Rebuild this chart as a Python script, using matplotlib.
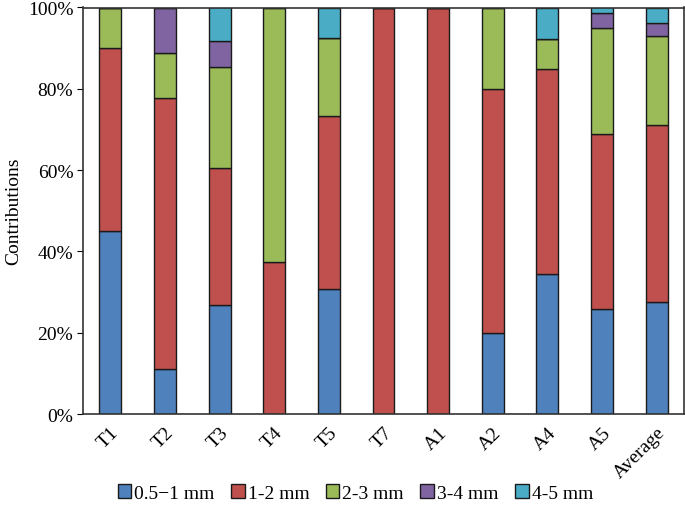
import numpy as np
import matplotlib
matplotlib.use('Agg')
import matplotlib.pyplot as plt
from matplotlib.ticker import PercentFormatter

plt.rcParams['font.family'] = ['Liberation Serif', 'DejaVu Serif']

samples = ['T1', 'T2', 'T3', 'T4', 'T5', 'T7', 'A1', 'A2', 'A4', 'A5', 'Average']
series = ['0.5\u22121 mm', '1-2 mm', '2-3 mm', '3-4 mm', '4-5 mm']

# contributions in percent, per size class
size_05_1 = [45.0, 11.1, 26.9, 0.0, 30.7, 0.0, 0.0, 20.0, 34.4, 25.8, 27.5]
size_1_2 = [45.1, 66.6, 33.6, 37.3, 42.6, 100.0, 100.0, 60.0, 50.4, 43.1, 43.5]
size_2_3 = [9.9, 11.2, 24.9, 62.7, 19.1, 0.0, 0.0, 20.0, 7.5, 26.0, 21.9]
size_3_4 = [0.0, 11.1, 6.4, 0.0, 0.0, 0.0, 0.0, 0.0, 0.0, 3.7, 3.3]
size_4_5 = [0.0, 0.0, 8.2, 0.0, 7.6, 0.0, 0.0, 0.0, 7.7, 1.4, 3.8]

colors = ['#4F81BD', '#C0504D', '#9BBB59', '#8064A2', '#4BACC6']

fig = plt.figure(figsize=(6.85, 5.06), dpi=100)
ax = fig.add_axes([83/685, 1 - 415/506, 601/685, 406.5/506])

x = np.arange(len(samples))
bottom = np.zeros(len(samples))
for vals, lab, c in zip([size_05_1, size_1_2, size_2_3, size_3_4, size_4_5], series, colors):
    vals = np.array(vals)
    ax.bar(x, vals, 0.4, bottom=bottom, color=c, edgecolor='#1a1a1a',
           linewidth=1.0, label=lab)
    bottom += vals

ax.set_xlim(-0.5, len(samples) - 0.5)
ax.set_ylim(0, 100)
ax.set_yticks(np.arange(0, 101, 20))
ax.yaxis.set_major_formatter(PercentFormatter(decimals=0))
ax.set_xticks(x)
ax.set_xticklabels(samples, rotation=45, ha='right', rotation_mode='anchor')
ax.tick_params(axis='x', length=0, pad=7, labelsize=14)
ax.tick_params(axis='y', length=4, direction='out', labelsize=14, pad=3)
for s in ax.spines.values():
    s.set_color('#333333')
    s.set_linewidth(1.2)

ax.set_ylabel('Contributions', fontsize=14, labelpad=4)

ax.legend(loc='center', bbox_to_anchor=(0.453, -0.195), ncol=5, frameon=False,
          fontsize=14, handlelength=0.7, handleheight=0.7, handletextpad=0.15,
          columnspacing=0.85)

fig.savefig('out.png', dpi=100)
